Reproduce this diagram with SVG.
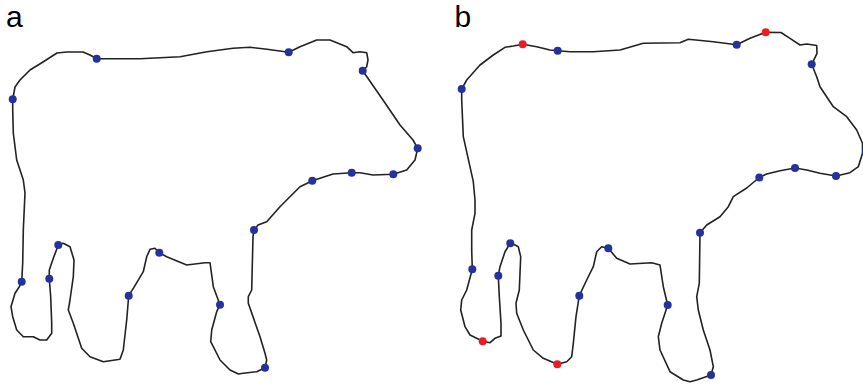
<svg xmlns="http://www.w3.org/2000/svg" width="863" height="385" viewBox="0 0 863 385">
  <defs>
    <style>
      .label { font-family: "Liberation Sans", Arial, sans-serif; font-size: 30px; fill: #000; }
      .outline { fill: none; stroke: #222; stroke-width: 1.6; stroke-linejoin: round; stroke-linecap: round; }
      .pt { fill: #23329c; }
      .pt-red { fill: #ec1c24; }
    </style>
  </defs>
  <rect width="863" height="385" fill="#fff"/>

  <!-- Panel a: outline with contour points -->
  <g id="panel-a">
    <text class="label" x="6" y="26.5">a</text>
    <path class="outline" d="M12.7,99.3 L15,87 L20,80 L30,70 L43,62 L57,53 L67,52 L83,52 L90,55 L96.7,58.7 L140,58.7 L180,56.7 L207,51.7 L233,48.3 L250,47.3 L267,49.3 L288.7,52.3 L300,46.7 L316.7,40 L330,40 L346.7,46.7 L353,52.7 L360,51.7 L366.7,52.7 L368,60 L366.7,66.7 L362.7,70.7 L383,100 L400,125 L413,140 L417.7,148.3 L415,160 L406.7,170 L393.3,174.3 L373,175 L360,172.7 L351.7,172.7 L333,174 L312.3,180.7 L300,186.7 L286.7,200 L280,206.7 L266.7,221.7 L258,225 L254,230 L253,236.7 L251.7,290 L248.3,296.7 L248.3,303.3 L260,336.7 L265,353.3 L266.7,360 L265,367.7 L256.7,371.7 L243.3,373.3 L238.3,374 L230,370 L220,360 L213.3,346.7 L210.7,341.7 L211.7,330 L216.7,311.7 L220,304.7 L213.3,286.7 L210,262.7 L205,262.7 L186.7,265 L166.7,256.7 L159.3,252.7 L155,248.3 L150,249.3 L146.7,256.7 L143.3,271.7 L133.3,288.3 L128.7,295.7 L126.7,320 L123.3,350 L120,359.3 L103.3,361.7 L90,356.7 L81.7,348.3 L73.3,323.3 L68.3,310 L70,300 L73.3,276.7 L74,260 L70,246.7 L63.3,243.3 L58.3,245 L53.3,258.3 L49.3,270 L49.3,278.7 L50.7,296.7 L51.7,323.3 L51.7,333.3 L46.7,340 L40,340 L33.3,336.7 L23.3,336.7 L16.7,330 L12.7,316.7 L11,306.7 L15,293.3 L19.3,286.7 L21.7,281.7 L22.7,263.3 L23.3,230 L25,193 L23.3,180 L16.7,160 L13.3,133 L12.7,110 Z"/>
    <g id="points-a">
      <circle class="pt" cx="12.7" cy="99.3" r="4"/>
      <circle class="pt" cx="96.7" cy="58.7" r="4"/>
      <circle class="pt" cx="288.7" cy="52.3" r="4"/>
      <circle class="pt" cx="362.7" cy="70.7" r="4"/>
      <circle class="pt" cx="417.7" cy="148.3" r="4"/>
      <circle class="pt" cx="393.3" cy="174.3" r="4"/>
      <circle class="pt" cx="351.7" cy="172.7" r="4"/>
      <circle class="pt" cx="312.3" cy="180.7" r="4"/>
      <circle class="pt" cx="254" cy="230" r="4"/>
      <circle class="pt" cx="265" cy="367.7" r="4"/>
      <circle class="pt" cx="220" cy="304.7" r="4"/>
      <circle class="pt" cx="159.3" cy="252.7" r="4"/>
      <circle class="pt" cx="128.7" cy="295.7" r="4"/>
      <circle class="pt" cx="58.3" cy="245" r="4"/>
      <circle class="pt" cx="49.3" cy="278.7" r="4"/>
      <circle class="pt" cx="21.7" cy="281.7" r="4"/>
    </g>
  </g>

  <!-- Panel b: outline with contour points, extra points in red -->
  <g id="panel-b">
    <text class="label" x="454.5" y="26.5">b</text>
    <path class="outline" d="M461.7,89 L466.7,80 L480,65 L493.3,55 L505,47.3 L513.3,46 L522.7,44.3 L536.7,46.7 L550,50 L557.7,50.7 L570,51.7 L593.3,51.7 L620,50 L643.3,43.3 L680,42.7 L688.3,39.3 L713.3,41.7 L736.7,44.7 L750,38.3 L765.7,32.3 L781,32.5 L790,38.3 L800,45 L806.7,44 L816.7,45.5 L817,53.3 L811.7,64.3 L816.7,76.7 L820,86.7 L833.3,106.7 L846.7,116.7 L856.7,130 L862.5,143.3 L862.5,153.3 L858.3,166.7 L850,172.7 L836,176 L820,173.3 L806.7,170 L795,168 L780,170.7 L766.7,174 L759.3,177.5 L746.7,188 L733.3,196.7 L728.3,206.7 L720,216.7 L706.7,225 L700,232.7 L699.3,283.3 L696.7,296.7 L698.3,310 L703.3,330 L710,350 L713.3,366.7 L711,375 L696.7,380 L690,381.7 L683.3,380 L670,371.7 L660,350 L658.3,336.7 L661.7,323.3 L667.7,305 L663.3,286.7 L660,265 L651.7,262.7 L630,264 L616.7,258.3 L608.3,248.3 L601.7,246.7 L596.7,251.7 L593.3,266.7 L586.7,280 L579.3,295.7 L576,316.7 L573.3,343.3 L571.7,356.7 L566.7,361.7 L557.3,364.3 L543.3,358.3 L533.3,350 L523.3,330 L516.7,313.3 L516,303.3 L519.3,290 L520.7,256.7 L518.3,246.7 L515,245 L510.3,243.3 L505,251.7 L500,266.7 L498.3,275.7 L499.3,296.7 L501,323.3 L501,336 L495,338.3 L490,342.7 L482.7,341.3 L470,335 L465,326.7 L460.7,310 L461.7,300 L466.7,290 L472.3,269.3 L471.7,250 L471.7,230 L475,213.3 L475,200 L473.3,181.7 L463.3,136.7 L461.7,100 Z"/>
    <g id="points-b">
      <circle class="pt" cx="461.7" cy="89" r="4"/>
      <circle class="pt" cx="557.7" cy="50.7" r="4"/>
      <circle class="pt" cx="736.7" cy="44.7" r="4"/>
      <circle class="pt" cx="811.7" cy="64.3" r="4"/>
      <circle class="pt" cx="866" cy="151.5" r="4"/>
      <circle class="pt" cx="836" cy="176" r="4"/>
      <circle class="pt" cx="795" cy="168" r="4"/>
      <circle class="pt" cx="759.3" cy="177.5" r="4"/>
      <circle class="pt" cx="700" cy="232.7" r="4"/>
      <circle class="pt" cx="711" cy="375" r="4"/>
      <circle class="pt" cx="667.7" cy="305" r="4"/>
      <circle class="pt" cx="608.3" cy="248.3" r="4"/>
      <circle class="pt" cx="579.3" cy="295.7" r="4"/>
      <circle class="pt" cx="510.3" cy="243.3" r="4"/>
      <circle class="pt" cx="498.3" cy="275.7" r="4"/>
      <circle class="pt" cx="472.3" cy="269.3" r="4"/>
      <circle class="pt-red" cx="522.7" cy="44.3" r="4"/>
      <circle class="pt-red" cx="765.7" cy="32.3" r="4"/>
      <circle class="pt-red" cx="557.3" cy="364.3" r="4"/>
      <circle class="pt-red" cx="482.7" cy="341.3" r="4"/>
    </g>
  </g>
</svg>
